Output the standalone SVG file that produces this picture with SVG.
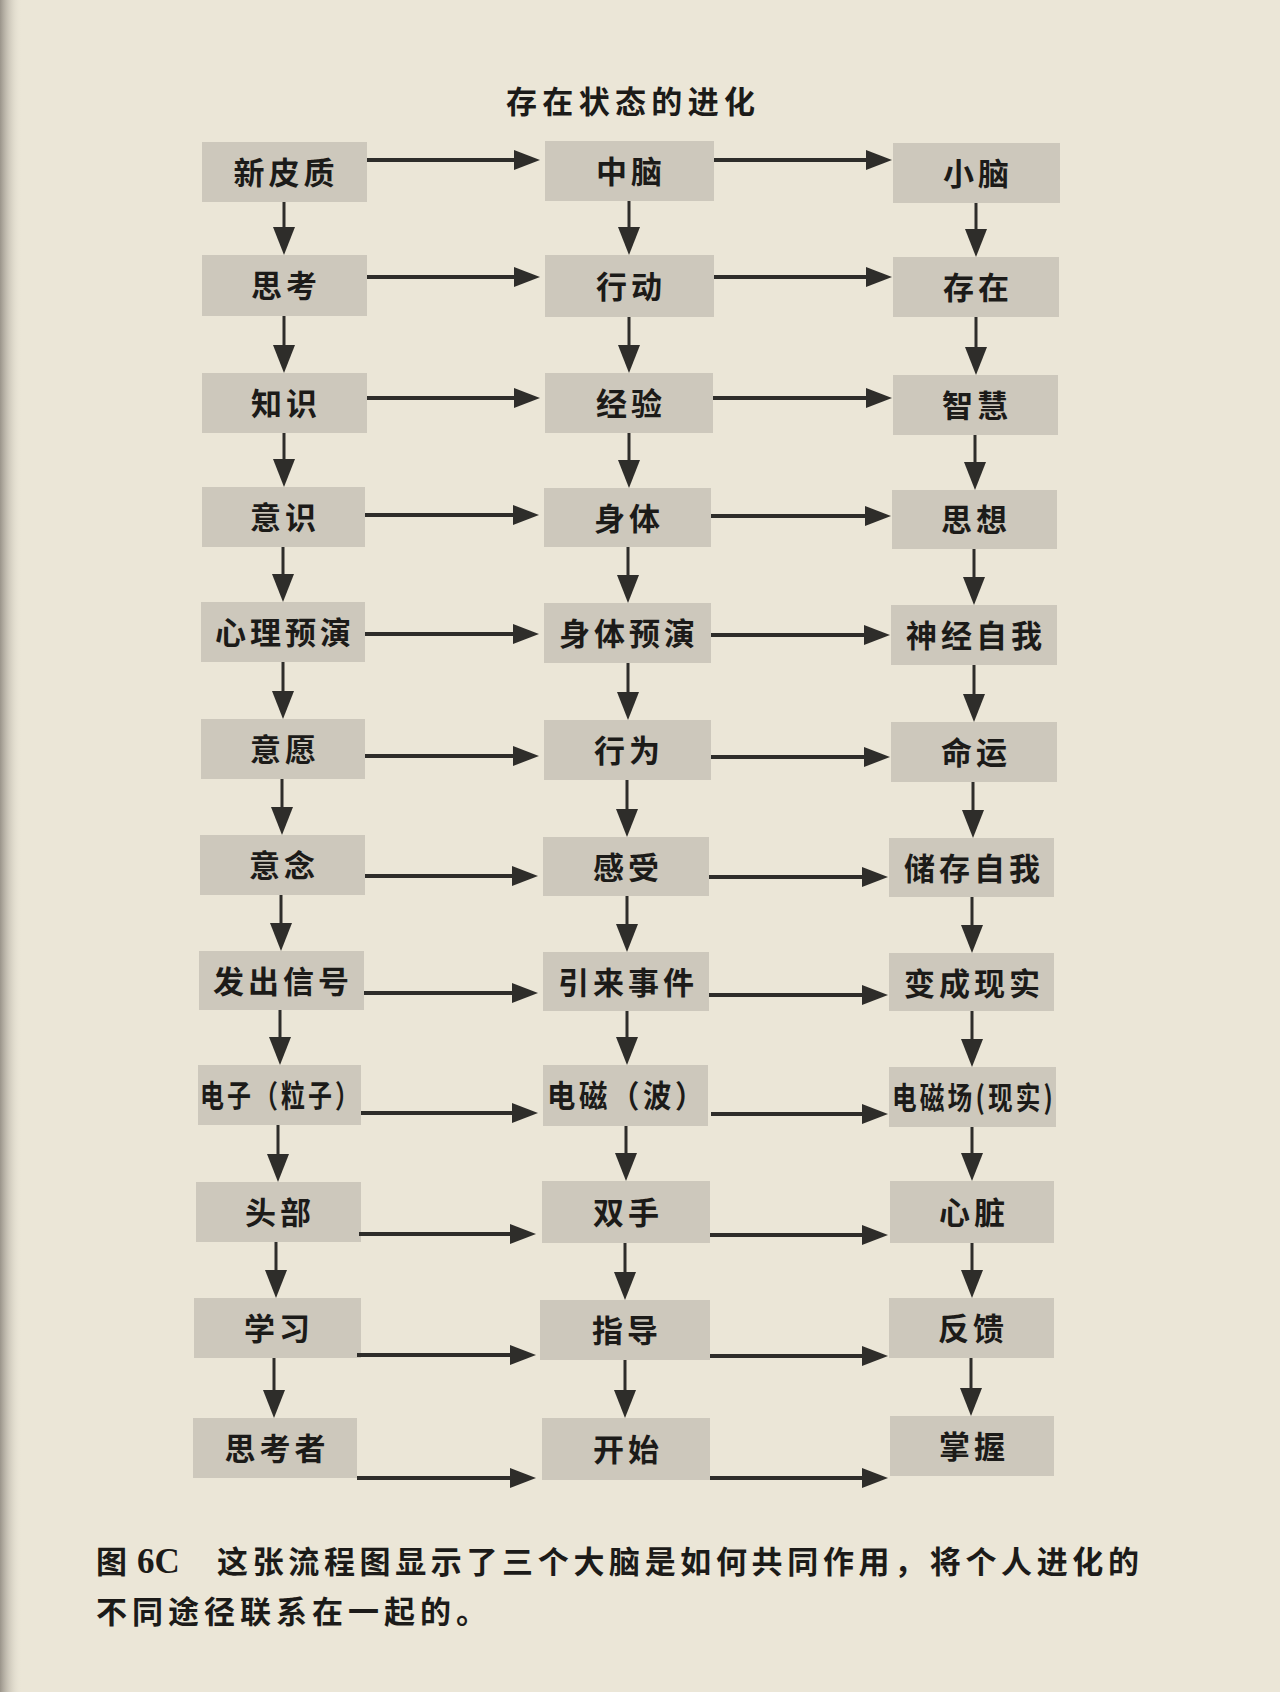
<svg xmlns="http://www.w3.org/2000/svg" width="1280" height="1692" viewBox="0 0 1280 1692">
<defs>
<style>
.bg{fill:#ebe6d7}
.box{fill:#cdc8bc}
.t{font-family:"Noto Sans CJK SC","Noto Sans CJK JP",sans-serif;font-weight:700;font-size:31px;fill:#1c1b19;text-anchor:middle;letter-spacing:4px}
.cap{font-family:"Noto Sans CJK SC","Noto Sans CJK JP",sans-serif;font-weight:700;font-size:31px;fill:#1c1b19}
.ser{font-family:"Liberation Serif",serif;font-weight:700;font-size:35px;fill:#1c1b19}
.h{stroke:#2e2d2a;stroke-width:4;fill:none}
.v{stroke:#2e2d2a;stroke-width:3;fill:none}
</style>
<marker id="ah" markerUnits="userSpaceOnUse" markerWidth="28" markerHeight="22" refX="6" refY="10" orient="auto"><path d="M0,0 L26,10 L0,20 z" fill="#2e2d2a"/></marker>
<marker id="av" markerUnits="userSpaceOnUse" markerWidth="30" markerHeight="24" refX="6" refY="11" orient="auto"><path d="M0,0 L28,11 L0,22 z" fill="#2e2d2a"/></marker>
<linearGradient id="edge" x1="0" y1="0" x2="1" y2="0"><stop offset="0" stop-color="#9a948a"/><stop offset="1" stop-color="#ebe6d7" stop-opacity="0"/></linearGradient>
</defs>
<rect class="bg" x="0" y="0" width="1280" height="1692"/>
<rect x="0" y="0" width="22" height="1692" fill="url(#edge)"/>
<text id="title" class="cap" x="506" y="113" font-size="32" textLength="249" lengthAdjust="spacing">存在状态的进化</text>

<g id="nodes">
<g id="n1a"><rect class="box" x="202" y="142" width="165" height="60"/><text class="t" x="286" y="184">新皮质</text></g>
<g id="n1b"><rect class="box" x="545" y="141" width="169" height="60"/><text class="t" x="631" y="183">中脑</text></g>
<g id="n1c"><rect class="box" x="893" y="143" width="167" height="60"/><text class="t" x="978" y="185">小脑</text></g>

<g id="n2a"><rect class="box" x="202" y="255" width="165" height="61"/><text class="t" x="286" y="297">思考</text></g>
<g id="n2b"><rect class="box" x="545" y="255" width="169" height="62"/><text class="t" x="631" y="298">行动</text></g>
<g id="n2c"><rect class="box" x="893" y="257" width="166" height="60"/><text class="t" x="978" y="299">存在</text></g>

<g id="n3a"><rect class="box" x="202" y="373" width="165" height="60"/><text class="t" x="286" y="415">知识</text></g>
<g id="n3b"><rect class="box" x="545" y="373" width="168" height="60"/><text class="t" x="631" y="415">经验</text></g>
<g id="n3c"><rect class="box" x="893" y="375" width="165" height="60"/><text class="t" x="977" y="417">智慧</text></g>

<g id="n4a"><rect class="box" x="202" y="487" width="163" height="60"/><text class="t" x="285" y="529">意识</text></g>
<g id="n4b"><rect class="box" x="544" y="488" width="167" height="59"/><text class="t" x="629" y="530">身体</text></g>
<g id="n4c"><rect class="box" x="892" y="490" width="165" height="59"/><text class="t" x="976" y="531">思想</text></g>

<g id="n5a"><rect class="box" x="201" y="602" width="164" height="60"/><text class="t" x="285" y="644">心理预演</text></g>
<g id="n5b"><rect class="box" x="544" y="603" width="167" height="60"/><text class="t" x="629" y="645">身体预演</text></g>
<g id="n5c"><rect class="box" x="891" y="605" width="166" height="60"/><text class="t" x="976" y="647">神经自我</text></g>

<g id="n6a"><rect class="box" x="201" y="719" width="164" height="60"/><text class="t" x="285" y="761">意愿</text></g>
<g id="n6b"><rect class="box" x="544" y="720" width="167" height="60"/><text class="t" x="629" y="762">行为</text></g>
<g id="n6c"><rect class="box" x="891" y="722" width="166" height="60"/><text class="t" x="976" y="764">命运</text></g>

<g id="n7a"><rect class="box" x="200" y="835" width="165" height="60"/><text class="t" x="284" y="877">意念</text></g>
<g id="n7b"><rect class="box" x="543" y="837" width="166" height="59"/><text class="t" x="628" y="879">感受</text></g>
<g id="n7c"><rect class="box" x="889" y="838" width="165" height="59"/><text class="t" x="974" y="880">储存自我</text></g>

<g id="n8a"><rect class="box" x="199" y="951" width="165" height="59"/><text class="t" x="283" y="993">发出信号</text></g>
<g id="n8b"><rect class="box" x="543" y="952" width="166" height="59"/><text class="t" x="628" y="994">引来事件</text></g>
<g id="n8c"><rect class="box" x="889" y="953" width="165" height="58"/><text class="t" x="974" y="995">变成现实</text></g>

<g id="n9a"><rect class="box" x="198" y="1065" width="163" height="60"/><text class="t" x="281" y="1107" textLength="162" lengthAdjust="spacingAndGlyphs">电子（粒子）</text></g>
<g id="n9b"><rect class="box" x="543" y="1065" width="165" height="61"/><text class="t" x="627" y="1107" textLength="160" lengthAdjust="spacingAndGlyphs">电磁（波）</text></g>
<g id="n9c"><rect class="box" x="889" y="1067" width="167" height="60"/><text class="t" x="974" y="1109" textLength="164" lengthAdjust="spacingAndGlyphs">电磁场(现实)</text></g>

<g id="n10a"><rect class="box" x="196" y="1182" width="165" height="60"/><text class="t" x="280" y="1224">头部</text></g>
<g id="n10b"><rect class="box" x="542" y="1181" width="168" height="62"/><text class="t" x="628" y="1224">双手</text></g>
<g id="n10c"><rect class="box" x="890" y="1181" width="164" height="62"/><text class="t" x="974" y="1224">心脏</text></g>

<g id="n11a"><rect class="box" x="194" y="1298" width="167" height="60"/><text class="t" x="279" y="1340">学习</text></g>
<g id="n11b"><rect class="box" x="540" y="1300" width="170" height="60"/><text class="t" x="627" y="1342">指导</text></g>
<g id="n11c"><rect class="box" x="889" y="1298" width="165" height="60"/><text class="t" x="973" y="1340">反馈</text></g>

<g id="n12a"><rect class="box" x="193" y="1418" width="164" height="60"/><text class="t" x="277" y="1460">思考者</text></g>
<g id="n12b"><rect class="box" x="542" y="1418" width="168" height="62"/><text class="t" x="628" y="1461">开始</text></g>
<g id="n12c"><rect class="box" x="890" y="1416" width="164" height="60"/><text class="t" x="974" y="1458">掌握</text></g>
</g>

<g id="connectors">
<line class="h" x1="367" y1="160" x2="520" y2="160" marker-end="url(#ah)"/>
<line class="h" x1="714" y1="160" x2="872" y2="160" marker-end="url(#ah)"/>
<line class="h" x1="367" y1="277" x2="520" y2="277" marker-end="url(#ah)"/>
<line class="h" x1="714" y1="277" x2="872" y2="277" marker-end="url(#ah)"/>
<line class="h" x1="367" y1="398" x2="520" y2="398" marker-end="url(#ah)"/>
<line class="h" x1="713" y1="398" x2="872" y2="398" marker-end="url(#ah)"/>
<line class="h" x1="365" y1="515" x2="519" y2="515" marker-end="url(#ah)"/>
<line class="h" x1="711" y1="516" x2="871" y2="516" marker-end="url(#ah)"/>
<line class="h" x1="365" y1="634" x2="519" y2="634" marker-end="url(#ah)"/>
<line class="h" x1="711" y1="635" x2="870" y2="635" marker-end="url(#ah)"/>
<line class="h" x1="365" y1="756" x2="519" y2="756" marker-end="url(#ah)"/>
<line class="h" x1="711" y1="757" x2="870" y2="757" marker-end="url(#ah)"/>
<line class="h" x1="365" y1="876" x2="518" y2="876" marker-end="url(#ah)"/>
<line class="h" x1="709" y1="877" x2="868" y2="877" marker-end="url(#ah)"/>
<line class="h" x1="364" y1="993" x2="518" y2="993" marker-end="url(#ah)"/>
<line class="h" x1="709" y1="995" x2="868" y2="995" marker-end="url(#ah)"/>
<line class="h" x1="361" y1="1113" x2="518" y2="1113" marker-end="url(#ah)"/>
<line class="h" x1="711" y1="1114" x2="868" y2="1114" marker-end="url(#ah)"/>
<line class="h" x1="359" y1="1234" x2="516" y2="1234" marker-end="url(#ah)"/>
<line class="h" x1="710" y1="1235" x2="868" y2="1235" marker-end="url(#ah)"/>
<line class="h" x1="357" y1="1355" x2="516" y2="1355" marker-end="url(#ah)"/>
<line class="h" x1="710" y1="1356" x2="868" y2="1356" marker-end="url(#ah)"/>
<line class="h" x1="357" y1="1478" x2="516" y2="1478" marker-end="url(#ah)"/>
<line class="h" x1="710" y1="1478" x2="868" y2="1478" marker-end="url(#ah)"/>
<line class="v" x1="284" y1="202" x2="284" y2="233" marker-end="url(#av)"/>
<line class="v" x1="284" y1="316" x2="284" y2="351" marker-end="url(#av)"/>
<line class="v" x1="284" y1="433" x2="284" y2="465" marker-end="url(#av)"/>
<line class="v" x1="283" y1="547" x2="283" y2="580" marker-end="url(#av)"/>
<line class="v" x1="283" y1="662" x2="283" y2="697" marker-end="url(#av)"/>
<line class="v" x1="282" y1="779" x2="282" y2="813" marker-end="url(#av)"/>
<line class="v" x1="281" y1="895" x2="281" y2="929" marker-end="url(#av)"/>
<line class="v" x1="280" y1="1010" x2="280" y2="1043" marker-end="url(#av)"/>
<line class="v" x1="278" y1="1125" x2="278" y2="1160" marker-end="url(#av)"/>
<line class="v" x1="276" y1="1242" x2="276" y2="1276" marker-end="url(#av)"/>
<line class="v" x1="274" y1="1358" x2="274" y2="1396" marker-end="url(#av)"/>
<line class="v" x1="629" y1="201" x2="629" y2="233" marker-end="url(#av)"/>
<line class="v" x1="629" y1="317" x2="629" y2="351" marker-end="url(#av)"/>
<line class="v" x1="629" y1="433" x2="629" y2="466" marker-end="url(#av)"/>
<line class="v" x1="628" y1="547" x2="628" y2="581" marker-end="url(#av)"/>
<line class="v" x1="628" y1="663" x2="628" y2="698" marker-end="url(#av)"/>
<line class="v" x1="627" y1="780" x2="627" y2="815" marker-end="url(#av)"/>
<line class="v" x1="627" y1="896" x2="627" y2="930" marker-end="url(#av)"/>
<line class="v" x1="627" y1="1011" x2="627" y2="1043" marker-end="url(#av)"/>
<line class="v" x1="626" y1="1126" x2="626" y2="1159" marker-end="url(#av)"/>
<line class="v" x1="625" y1="1243" x2="625" y2="1278" marker-end="url(#av)"/>
<line class="v" x1="625" y1="1360" x2="625" y2="1396" marker-end="url(#av)"/>
<line class="v" x1="976" y1="203" x2="976" y2="235" marker-end="url(#av)"/>
<line class="v" x1="976" y1="317" x2="976" y2="353" marker-end="url(#av)"/>
<line class="v" x1="975" y1="435" x2="975" y2="468" marker-end="url(#av)"/>
<line class="v" x1="974" y1="549" x2="974" y2="583" marker-end="url(#av)"/>
<line class="v" x1="974" y1="665" x2="974" y2="700" marker-end="url(#av)"/>
<line class="v" x1="973" y1="782" x2="973" y2="816" marker-end="url(#av)"/>
<line class="v" x1="972" y1="897" x2="972" y2="931" marker-end="url(#av)"/>
<line class="v" x1="972" y1="1011" x2="972" y2="1045" marker-end="url(#av)"/>
<line class="v" x1="972" y1="1127" x2="972" y2="1159" marker-end="url(#av)"/>
<line class="v" x1="972" y1="1243" x2="972" y2="1276" marker-end="url(#av)"/>
<line class="v" x1="971" y1="1358" x2="971" y2="1394" marker-end="url(#av)"/>
</g>

<g id="caption">
<text class="cap" x="96" y="1573">图</text>
<text class="ser" x="137" y="1573">6C</text>
<text class="cap" x="217" y="1573" textLength="922" lengthAdjust="spacing">这张流程图显示了三个大脑是如何共同作用，将个人进化的</text>
<text class="cap" x="96" y="1623" letter-spacing="5">不同途径联系在一起的。</text>
</g>
</svg>
